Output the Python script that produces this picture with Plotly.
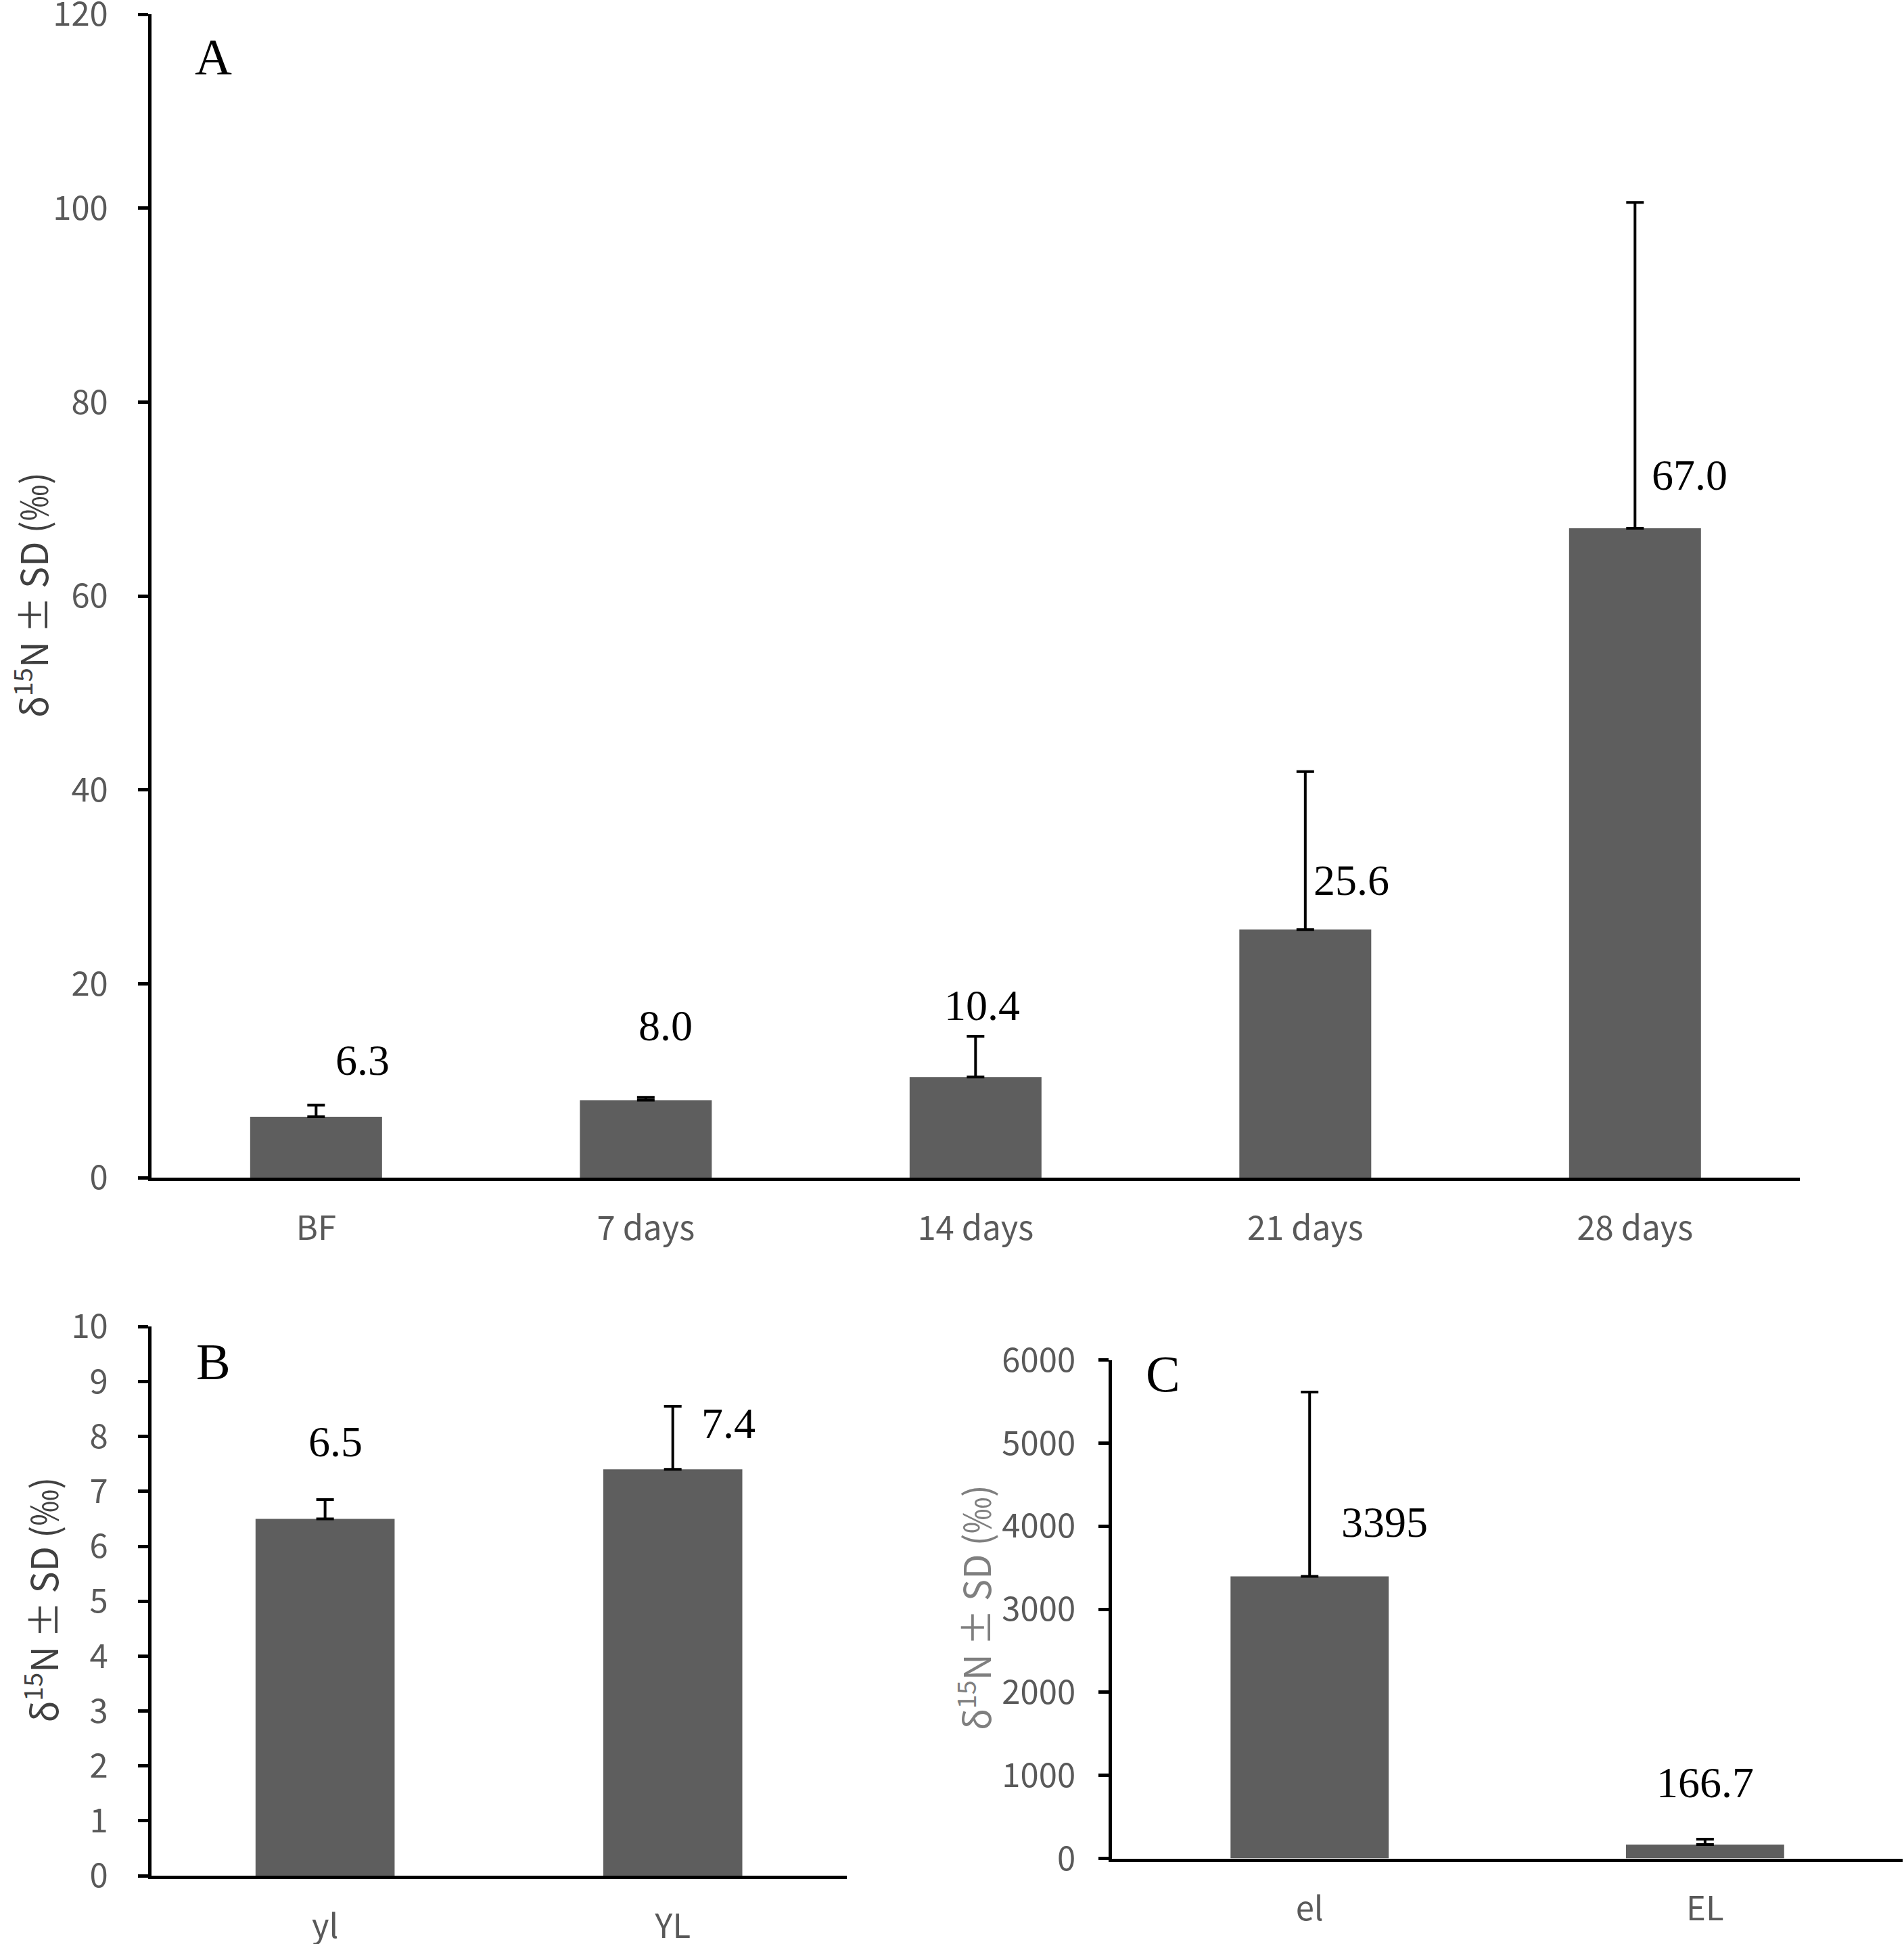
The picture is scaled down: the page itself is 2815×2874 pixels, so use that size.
import plotly.graph_objects as go

# panel A: delta 15N over time
a_cats = ["BF", "7 days", "14 days", "21 days", "28 days"]
a_vals = [6.3, 8.0, 10.4, 25.6, 67.0]
a_sd = [1.2, 0.3, 4.2, 16.3, 33.6]
a_text = ["6.3", "8.0", "10.4", "25.6", "67.0"]

# panel B
b_cats = ["yl", "YL"]
b_vals = [6.5, 7.4]
b_sd = [0.35, 1.15]
b_text = ["6.5", "7.4"]

# panel C
c_cats = ["el", "EL"]
c_vals = [3395, 166.7]
c_sd = [2220, 65]
c_text = ["3395", "166.7"]

W, H = 2815, 2874
bar_col = "#5e5e5e"
tick_font = dict(family="Noto Sans CJK SC", size=49, color="#595959")
lab_font = dict(family="Liberation Serif", size=64, color="black")
title = "δ<sup>15</sup>N ± SD (‰)"

fig = go.Figure()


def add_bars(cats, vals, sd, xa, ya):
	fig.add_trace(go.Bar(
		x=cats, y=vals, xaxis=xa, yaxis=ya, marker_color=bar_col,
		marker_line_width=0, showlegend=False,
		error_y=dict(type="data", symmetric=False, array=sd,
			arrayminus=[0] * len(sd), color="black", thickness=4, width=13)))


add_bars(a_cats, a_vals, a_sd, "x", "y")
add_bars(b_cats, b_vals, b_sd, "x2", "y2")
add_bars(c_cats, c_vals, c_sd, "x3", "y3")

# label placement (offset from bar centre in category units, height in data units)
a_lab_pos = [(0.14, 12.1), (0.06, 15.7), (0.02, 17.8), (0.14, 30.7), (0.165, 72.5)]
b_lab_pos = [(0.03, 7.9), (0.16, 8.24)]
c_lab_pos = [(0.19, 4045), (0.0, 910)]

ann = []
for cats, texts, pos, xr, yr in [(a_cats, a_text, a_lab_pos, "x", "y"),
		(b_cats, b_text, b_lab_pos, "x2", "y2"),
		(c_cats, c_text, c_lab_pos, "x3", "y3")]:
	for i, t in enumerate(texts):
		ann.append(dict(x=i + pos[i][0], y=pos[i][1], xref=xr, yref=yr, text=t,
			showarrow=False, font=lab_font, xanchor="center", yanchor="middle"))

# panel letters
for t, px, py in [("A", 172 / 1536, 1 - 46 / 1568), ("B", 172 / 1536, 1 - 1098 / 1568),
		("C", 938 / 1536, 1 - 1108 / 1568)]:
	ann.append(dict(x=px, y=py, xref="paper", yref="paper", text=t, showarrow=False,
		font=dict(family="Liberation Serif", size=76, color="black"),
		xanchor="center", yanchor="middle"))

# y axis titles
for px, py, col in [(25 / 1536, 0.694, "#404040"), (33 / 1536, 0.177, "#404040"),
		(786 / 1536, 0.173, "#7f7f7f")]:
	ann.append(dict(x=px, y=py, xref="paper", yref="paper", text=title, showarrow=False,
		textangle=-90, font=dict(family="Noto Sans CJK SC", size=54, color=col),
		xanchor="center", yanchor="middle"))

xax = dict(type="category", showline=True, linecolor="black", linewidth=5,
	ticks="", tickfont=tick_font, ticklabelstandoff=28, showgrid=False, zeroline=False,
	ticklabeloverflow="allow")
yax = dict(showline=True, linecolor="black", linewidth=5, ticks="outside", ticklen=15,
	tickwidth=5, tickcolor="black", tickfont=tick_font, ticklabelstandoff=34,
	showgrid=False, zeroline=False, ticklabeloverflow="allow")

fig.update_layout(
	width=W, height=H, margin=dict(l=0, r=0, t=0, b=0, autoexpand=False),
	paper_bgcolor="white", plot_bgcolor="white", bargap=0.6,
	xaxis=dict(xax, domain=[122 / 1536, 1452 / 1536], anchor="y", range=[-0.5, 4.5]),
	yaxis=dict(yax, domain=[1 - 950 / 1568, 1 - 11.6 / 1568], anchor="x",
		range=[0, 120], tickvals=[0, 20, 40, 60, 80, 100, 120]),
	xaxis2=dict(xax, domain=[122 / 1536, 683 / 1536], anchor="y2", range=[-0.5, 1.5]),
	yaxis2=dict(yax, domain=[1 - 1513 / 1568, 1 - 1070 / 1568], anchor="x2",
		range=[0, 10], tickvals=list(range(0, 11))),
	xaxis3=dict(xax, domain=[897 / 1536, 1535 / 1536], anchor="y3", range=[-0.5, 1.5]),
	yaxis3=dict(yax, domain=[1 - 1499 / 1568, 1 - 1097 / 1568], anchor="x3",
		range=[0, 6000], tickvals=[0, 1000, 2000, 3000, 4000, 5000, 6000],
		ticklabelstandoff=24),
	annotations=ann,
)

fig.write_html("out.html", config={"displayModeBar": False},
	post_script="document.body.style.margin='0';")
